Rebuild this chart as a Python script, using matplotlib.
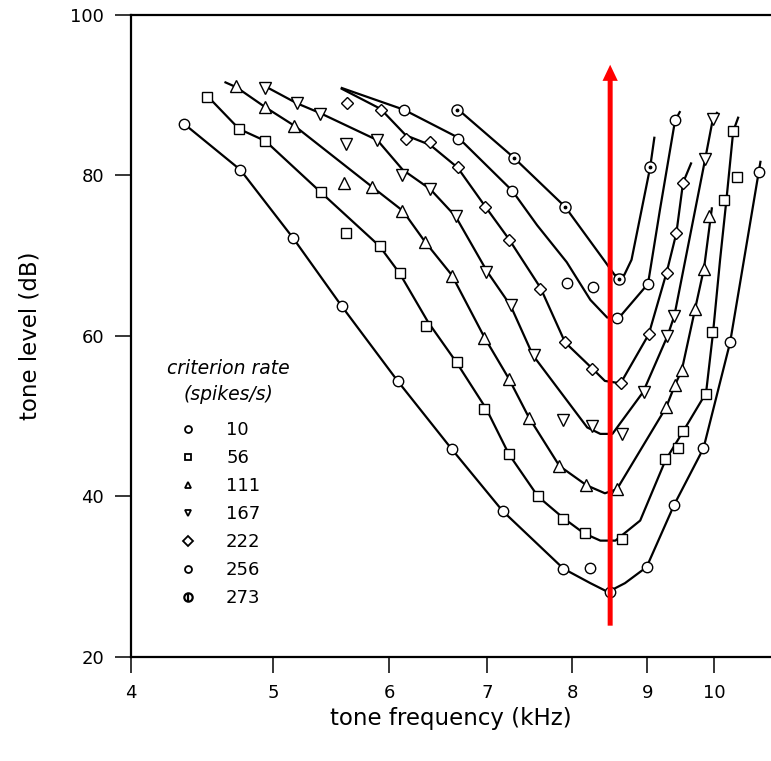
import numpy as np
import matplotlib.pyplot as plt
from matplotlib.lines import Line2D
from matplotlib.ticker import FixedLocator, FixedFormatter, NullLocator

plt.rcParams['font.family'] = ['DejaVu Sans']

# criterion rate 10 spikes/s (markers, then drawn curve)
f10 = [4.35, 4.75, 5.16, 5.57, 6.08, 6.62, 7.17, 7.89, 8.22, 8.49, 8.99, 9.39, 9.83, 10.25, 10.73]
db10 = [86.4, 80.7, 72.2, 63.7, 54.4, 45.9, 38.2, 31.0, 31.1, 28.1, 31.2, 39.0, 46.0, 59.2, 80.4]
cf10 = [4.35, 4.75, 5.16, 5.57, 6.08, 6.62, 7.17, 7.89, 8.23, 8.46, 8.69, 8.99, 9.39, 9.83, 10.25, 10.75]
cdb10 = [86.4, 80.7, 72.2, 63.7, 54.4, 45.9, 38.2, 31.0, 29.2, 28.1, 29.2, 31.2, 39.0, 46.0, 59.2, 81.7]

# 56 spikes/s
f56 = [4.51, 4.74, 4.94, 5.39, 5.61, 5.91, 6.10, 6.36, 6.67, 6.96, 7.24, 7.58, 7.89, 8.16, 8.65,
       9.26, 9.44, 9.52, 9.87, 9.97, 10.16, 10.36, 10.30]
db56 = [89.8, 85.8, 84.3, 77.9, 72.8, 71.2, 67.9, 61.2, 56.7, 50.9, 45.3, 40.0, 37.2, 35.4, 34.7,
        44.7, 46.0, 48.1, 52.8, 60.5, 77.0, 79.8, 85.5]
cf56 = [4.51, 4.74, 4.94, 5.39, 5.91, 6.10, 6.38, 6.67, 6.99, 7.24, 7.58, 7.89, 8.15, 8.36, 8.56,
        8.90, 9.26, 9.52, 9.87, 9.98, 10.09, 10.19, 10.30, 10.38]
cdb56 = [89.9, 85.8, 84.3, 77.9, 71.2, 67.8, 61.7, 56.7, 50.9, 45.3, 40.0, 37.3, 35.4, 34.5, 34.5,
         37.0, 44.5, 48.1, 52.9, 60.5, 69.5, 76.9, 85.5, 87.2]

# 111 spikes/s
f111 = [4.72, 4.94, 5.17, 5.59, 5.84, 6.12, 6.35, 6.62, 6.96, 7.24, 7.47, 7.84, 8.18, 8.58,
        9.27, 9.40, 9.50, 9.70, 9.84, 9.92]
db111 = [91.1, 88.5, 86.2, 79.1, 78.6, 75.6, 71.7, 67.5, 59.8, 54.7, 49.8, 43.8, 41.4, 40.9,
         51.2, 53.9, 55.7, 63.3, 68.4, 74.9]
cf111 = [4.64, 4.72, 4.94, 5.17, 5.84, 6.13, 6.35, 6.62, 6.97, 7.24, 7.47, 7.84, 8.18, 8.42, 8.58,
         9.27, 9.40, 9.50, 9.70, 9.84, 9.96]
cdb111 = [91.6, 91.0, 88.5, 86.2, 78.6, 75.6, 71.7, 67.6, 59.8, 54.7, 49.9, 43.8, 41.4, 40.4, 40.9,
          51.1, 53.9, 55.7, 63.3, 68.5, 75.9]

# 167 spikes/s
f167 = [4.94, 5.19, 5.38, 5.61, 5.89, 6.12, 6.40, 6.66, 6.99, 7.26, 7.53, 7.89, 8.25, 8.65,
        8.95, 9.28, 9.39, 9.86, 9.98]
db167 = [90.9, 89.0, 87.7, 83.9, 84.4, 80.0, 78.3, 74.9, 68.0, 63.9, 57.6, 49.5, 48.8, 47.8,
         53.0, 60.0, 62.5, 82.1, 87.1]
cf167 = [4.94, 5.19, 5.38, 5.89, 6.13, 6.40, 6.66, 7.00, 7.26, 7.52, 8.19, 8.36, 8.52,
         8.94, 9.29, 9.39, 9.86, 9.98, 10.04]
cdb167 = [91.1, 89.0, 87.8, 84.4, 80.7, 78.3, 74.9, 68.0, 63.8, 57.6, 48.6, 47.8, 47.8,
          53.0, 60.0, 62.5, 82.2, 87.2, 87.8]

# 222 spikes/s
f222 = [5.62, 5.92, 6.16, 6.40, 6.68, 6.98, 7.24, 7.61, 7.91, 8.25, 8.63, 9.03, 9.28, 9.42, 9.52]
db222 = [89.0, 88.2, 84.6, 84.2, 81.0, 76.1, 72.0, 65.9, 59.3, 55.9, 54.1, 60.2, 67.9, 72.8, 79.1]
cf222 = [5.57, 5.92, 6.16, 6.40, 6.68, 6.98, 7.24, 7.61, 7.91, 8.26, 8.42, 8.63, 9.02, 9.28, 9.42, 9.52, 9.64]
cdb222 = [90.8, 88.3, 85.0, 83.8, 81.0, 76.1, 72.1, 66.0, 59.2, 55.9, 54.4, 54.1, 60.2, 68.0, 72.8, 79.1, 81.5]

# 256 spikes/s
f256 = [6.14, 6.69, 7.28, 7.93, 8.27, 8.58, 9.01, 9.40]
db256 = [88.2, 84.6, 78.1, 66.6, 66.1, 62.2, 66.5, 86.9]
cf256 = [5.57, 6.14, 6.69, 7.28, 7.57, 7.93, 8.23, 8.45, 8.63, 9.01, 9.18, 9.40, 9.47]
cdb256 = [90.9, 88.2, 84.7, 78.1, 73.8, 69.2, 64.5, 62.3, 62.5, 66.5, 75.7, 86.8, 87.9]

# 273 spikes/s
f273 = [6.67, 7.30, 7.91, 8.61, 9.04]
db273 = [88.2, 82.2, 76.1, 67.1, 81.0]
cf273 = [6.66, 7.29, 7.91, 8.42, 8.55, 8.68, 8.78, 9.04, 9.10]
cdb273 = [88.5, 82.3, 76.1, 69.3, 67.6, 67.6, 69.5, 81.0, 84.7]

rates = ['10', '56', '111', '167', '222', '256', '273']
xticks = [4, 5, 6, 7, 8, 9, 10]
yticks = [20, 40, 60, 80, 100]
arrow_f = 8.49
arrow_db = [23.9, 93.8]

markers = ['o', 's', '^', 'v', 'D', 'o', 'o']
msizes = [7.5, 7, 8, 8, 6, 7.5, 8]

fig = plt.figure(figsize=(7.71, 7.61), dpi=100)
ax = fig.add_axes([0.1699, 0.1367, 0.8301, 0.8436])
ax.set_xscale('log')
ax.set_xlim(4, 10.93)
ax.set_ylim(20, 100)

series = [(f10, db10, cf10, cdb10), (f56, db56, cf56, cdb56), (f111, db111, cf111, cdb111),
          (f167, db167, cf167, cdb167), (f222, db222, cf222, cdb222), (f256, db256, cf256, cdb256),
          (f273, db273, cf273, cdb273)]
for (f, db, cf, cdb), m, ms in zip(series, markers, msizes):
    ax.plot(cf, cdb, color='black', lw=1.6, zorder=2, clip_on=False)
    ax.plot(f, db, ls='none', marker=m, ms=ms, mfc='white', mec='black', mew=1.0, zorder=3)
ax.plot(f273, db273, ls='none', marker='.', ms=3.5, color='black', zorder=4)

# red arrow at the best frequency
ax.annotate('', xy=(arrow_f, arrow_db[1]), xytext=(arrow_f, arrow_db[0]),
            arrowprops=dict(arrowstyle='simple,head_length=0.58,head_width=0.55,tail_width=0.18',
                            mutation_scale=20, fc='red', ec='none', shrinkA=0, shrinkB=0),
            zorder=6)

ax.xaxis.set_major_locator(FixedLocator(xticks))
ax.xaxis.set_major_formatter(FixedFormatter([str(t) for t in xticks]))
ax.xaxis.set_minor_locator(NullLocator())
ax.set_yticks(yticks)
ax.tick_params(axis='both', direction='out', length=11.5, width=1.1, labelsize=13)
ax.tick_params(axis='x', pad=8)
ax.tick_params(axis='y', pad=8)
ax.spines['right'].set_visible(False)
for s in ['left', 'bottom', 'top']:
    ax.spines[s].set_linewidth(1.6)

ax.set_xlabel('tone frequency (kHz)', fontsize=16.5)
ax.set_ylabel('tone level (dB)', fontsize=16.5)
ax.xaxis.set_label_coords(0.5, -0.078)
ax.yaxis.set_label_coords(-0.14, 0.5)

# legend: title as a separate text block, entries via ax.legend
ax.text(0.152, 0.429, 'criterion rate\n(spikes/s)', transform=ax.transAxes, ha='center',
        va='center', style='italic', fontsize=13.5, linespacing=1.45, multialignment='center')
handles = [Line2D([], [], ls='none', marker=m, ms=5, mfc='white', mec='black', mew=1.3)
           for m in markers[:6]]
handles.append((Line2D([], [], ls='none', marker='o', ms=6, mfc='white', mec='black', mew=1.6),
                Line2D([], [], ls='none', marker='|', ms=6, color='black', mew=1.6)))
leg = ax.legend(handles, rates, loc='upper left', bbox_to_anchor=(0.2113, 0.4678),
                bbox_transform=fig.transFigure, frameon=False, fontsize=13,
                handlelength=1.0, handletextpad=1.6, labelspacing=0.55)

fig.savefig('out.png', dpi=100)
